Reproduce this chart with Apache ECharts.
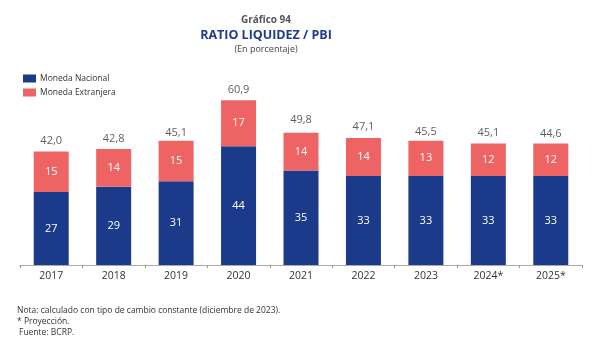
<!DOCTYPE html>
<html>
<head>
<meta charset="utf-8">
<script src="https://cdn.jsdelivr.net/npm/echarts@6/dist/echarts.min.js"></script>
<style>
  html, body { margin: 0; padding: 0; background: #fff; }
  #chart { width: 600px; height: 347px; }
</style>
</head>
<body>
<div id="chart"></div>
<script>
// Liquidez como porcentaje del PBI, por moneda
const categories = ['2017', '2018', '2019', '2020', '2021', '2022', '2023', '2024*', '2025*'];
const monedaNacional = [27, 29, 31, 44, 35, 33, 33, 33, 33];
const monedaExtranjera = [15, 14, 15, 17, 14, 14, 13, 12, 12];
const totales = [42.0, 42.8, 45.1, 60.9, 49.8, 47.1, 45.5, 45.1, 44.6];

const FONT = '"Open Sans", "Noto Sans", sans-serif';
const AZUL = '#1b3b8a';
const ROJO = '#ee6363';

const chart = echarts.init(document.getElementById('chart'), null, { renderer: 'canvas' });

const fmtComa = v => v.toFixed(1).replace('.', ',');

chart.setOption({
  animation: false,
  backgroundColor: '#fff',
  textStyle: { fontFamily: FONT },
  title: [
    { text: 'Gráfico 94', left: 261, top: 10, textAlign: 'center',
      textStyle: { fontSize: 10, fontWeight: 'bold', color: '#555', fontFamily: FONT } },
    { text: 'RATIO LIQUIDEZ / PBI', left: 261, top: 24, textAlign: 'center',
      textStyle: { fontSize: 12.5, fontWeight: 'bold', color: '#1d3c8f', fontFamily: FONT } },
    { text: '(En porcentaje)', left: 261, top: 40, textAlign: 'center',
      textStyle: { fontSize: 9, fontWeight: 'normal', color: '#444', fontFamily: FONT } }
  ],
  legend: {
    data: ['Moneda Nacional', 'Moneda Extranjera'],
    orient: 'vertical',
    left: 18, top: 69,
    itemWidth: 13, itemHeight: 8, itemGap: 5,
    icon: 'rect',
    textStyle: { fontSize: 8.5, color: '#333', fontFamily: FONT, padding: [0, 0, 0, -1] }
  },
  grid: { left: 20, right: 18, top: 76, bottom: 82 },
  xAxis: {
    type: 'category',
    data: categories,
    axisLine: { lineStyle: { color: '#aaa', width: 1.2 } },
    axisTick: { show: true, length: 3, lineStyle: { color: '#999' } },
    axisLabel: { fontSize: 10.5, color: '#333', margin: 6, fontFamily: FONT }
  },
  yAxis: {
    type: 'value', min: 0, max: 70, show: false, splitLine: { show: false }
  },
  series: [
    {
      name: 'Moneda Nacional', type: 'bar', stack: 'total', barWidth: 35,
      data: monedaNacional,
      itemStyle: { color: AZUL },
      label: { show: true, position: 'inside', color: '#fff', fontSize: 11, fontFamily: FONT }
    },
    {
      name: 'Moneda Extranjera', type: 'bar', stack: 'total', barWidth: 35,
      data: monedaExtranjera,
      itemStyle: { color: ROJO },
      label: { show: true, position: 'inside', color: '#fff', fontSize: 11, fontFamily: FONT }
    },
    {
      name: 'Total', type: 'scatter', symbolSize: 0, silent: true,
      data: totales,
      label: { show: true, position: 'top', distance: 5, color: '#333', fontSize: 11,
               fontFamily: FONT, formatter: p => fmtComa(p.value) }
    }
  ],
  graphic: [
    { type: 'text', left: 17, top: 306,
      style: { text: 'Nota: calculado con tipo de cambio constante (diciembre de 2023).', fontSize: 8.5, fill: '#333', fontFamily: FONT } },
    { type: 'text', left: 17, top: 317,
      style: { text: '* Proyección.', fontSize: 8.5, fill: '#333', fontFamily: FONT } },
    { type: 'text', left: 19, top: 328,
      style: { text: 'Fuente: BCRP.', fontSize: 8.5, fill: '#333', fontFamily: FONT } }
  ]
});
</script>
</body>
</html>
